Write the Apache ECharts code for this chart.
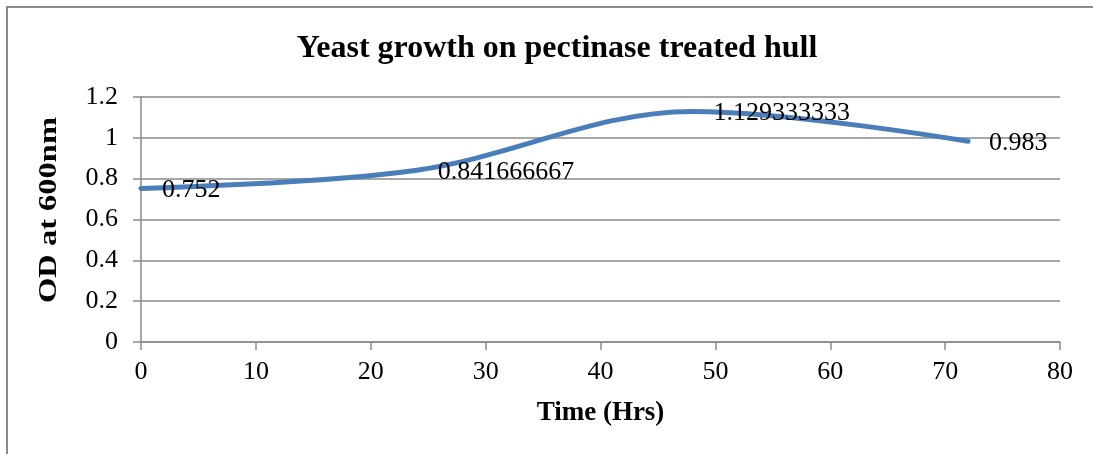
<!DOCTYPE html>
<html>
<head>
<meta charset="utf-8">
<script src="https://cdn.jsdelivr.net/npm/echarts@6/dist/echarts.min.js"></script>
<style>
  html, body { margin: 0; padding: 0; background: #fff; }
  #chart { width: 1093px; height: 454px; }
</style>
</head>
<body>
<div id="chart"></div>
<script>
// Sampling times (hours) and optical density readings
const hours = [0, 24, 48, 72];
const odValues = [0.752, 0.841666667, 1.129333333, 0.983];
const yTicks = [0, 0.2, 0.4, 0.6, 0.8, 1, 1.2];
const xTicks = [0, 10, 20, 30, 40, 50, 60, 70, 80];

const serif = '"Liberation Serif", "Times New Roman", serif';
const gridColor = '#8a8a8a';

const chart = echarts.init(document.getElementById('chart'), null, { renderer: 'canvas' });

chart.setOption({
  backgroundColor: '#ffffff',
  animation: false,
  title: {
    text: 'Yeast growth on pectinase treated hull',
    left: 552,
    top: 28,
    textAlign: 'center',
    textStyle: { fontFamily: serif, fontWeight: 'bold', fontSize: 32, color: '#000' }
  },
  grid: { left: 141, right: 33, top: 97, bottom: 112, containLabel: false },
  xAxis: {
    type: 'value',
    min: xTicks[0],
    max: xTicks[xTicks.length - 1],
    interval: 10,
    name: 'Time (Hrs)',
    nameLocation: 'middle',
    nameGap: 58,
    nameTextStyle: { fontFamily: serif, fontWeight: 'bold', fontSize: 27, color: '#000' },
    axisLine: { show: true, lineStyle: { color: gridColor, width: 1.5 } },
    axisTick: { show: true, inside: false, length: 8, lineStyle: { color: gridColor, width: 1.5 } },
    axisLabel: { fontFamily: serif, fontSize: 26, color: '#000', margin: 17 },
    splitLine: { show: false }
  },
  yAxis: {
    type: 'value',
    min: yTicks[0],
    max: yTicks[yTicks.length - 1],
    interval: 0.2,
    axisLine: { show: true, lineStyle: { color: gridColor, width: 1.5 } },
    axisTick: { show: true, inside: false, length: 8, lineStyle: { color: gridColor, width: 1.5 } },
    axisLabel: {
      fontFamily: serif, fontSize: 26, color: '#000', margin: 23,
      formatter: v => String(Math.round(v * 10) / 10)
    },
    splitLine: { show: true, lineStyle: { color: gridColor, width: 1.5 } }
  },
  series: [{
    type: 'line',
    data: hours.map((h, i) => [h, odValues[i]]),
    smooth: 0.35,
    showSymbol: true,
    symbol: 'circle',
    symbolSize: 0,
    lineStyle: { color: '#4a7ebb', width: 5, cap: 'round', join: 'round' },
    itemStyle: { color: '#4a7ebb' },
    label: {
      show: true,
      position: 'right',
      distance: 21,
      offset: [0, 2],
      fontFamily: serif,
      fontSize: 26,
      color: '#000',
      formatter: p => String(p.value[1])
    }
  }],
  graphic: [
    {
      type: 'polyline',
      shape: { points: [[7, 460], [7, 7], [1100, 7]] },
      style: { stroke: '#8a8a8a', lineWidth: 2, fill: null },
      silent: true
    },
    {
      type: 'text',
      x: 50,
      y: 210,
      rotation: Math.PI / 2,
      scaleX: 1.3,
      style: {
        text: 'OD at 600nm',
        fontFamily: serif,
        fontWeight: 'bold',
        fontSize: 25,
        fill: '#000',
        align: 'center',
        verticalAlign: 'middle'
      },
      silent: true
    }
  ]
});
</script>
</body>
</html>
